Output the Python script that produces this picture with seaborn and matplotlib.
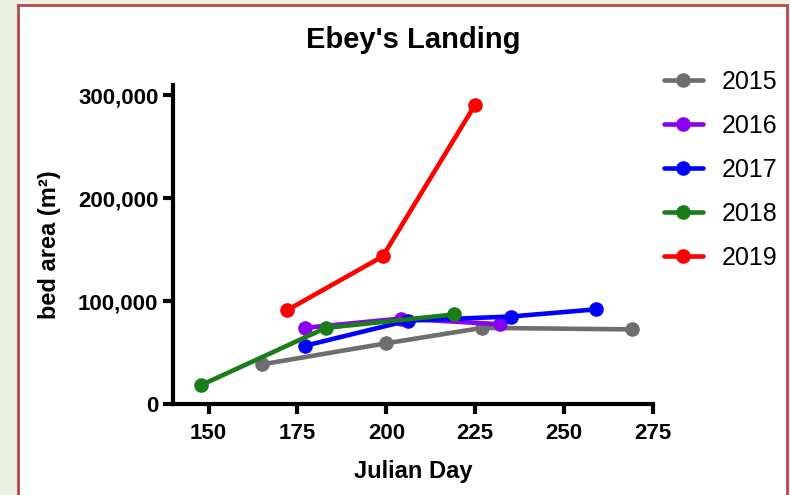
import numpy as np
import pandas as pd
import matplotlib
matplotlib.use("Agg")
import matplotlib.pyplot as plt
import seaborn as sns
from matplotlib.patches import Rectangle
from matplotlib.ticker import StrMethodFormatter

sns.set_style("ticks")
plt.rcParams['font.family'] = ['Liberation Sans', 'DejaVu Sans']
plt.rcParams['text.color'] = 'black'
plt.rcParams['axes.labelcolor'] = 'black'
plt.rcParams['xtick.color'] = 'black'
plt.rcParams['ytick.color'] = 'black'
plt.rcParams['axes.edgecolor'] = 'black'

# values
years = ["2015", "2016", "2017", "2018", "2019"]
colors = ["#6e6e6e", "#8a00f0", "#0000ff", "#1a7d1a", "#ff0000"]

day_2015 = [165, 200, 227, 269]
area_2015 = [38500, 59000, 74000, 72500]
day_2016 = [177, 204, 232]
area_2016 = [74000, 83000, 77500]
day_2017 = [177, 206, 235, 259]
area_2017 = [56500, 81000, 85000, 92000]
day_2018 = [148, 183, 219]
area_2018 = [18500, 74000, 87000]
day_2019 = [172, 199, 225]
area_2019 = [91000, 143500, 291000]

days = [day_2015, day_2016, day_2017, day_2018, day_2019]
areas = [area_2015, area_2016, area_2017, area_2018, area_2019]

df = pd.concat([pd.DataFrame({"day": d, "area": a, "year": y})
                for d, a, y in zip(days, areas, years)], ignore_index=True)

fig = plt.figure(figsize=(7.9, 4.95), dpi=100)
fig.patch.set_facecolor("#ebf0e1")
# white panel with the dark red frame
fig.patches.append(Rectangle((18 / 790, -0.05), (787 - 18) / 790, 1.05 - 5 / 495,
                             transform=fig.transFigure, facecolor="white",
                             edgecolor="#b5474b", linewidth=2, zorder=-1))

ax = fig.add_axes([173 / 790, 1 - 404 / 495, (653 - 173) / 790, (404 - 85) / 495])
ax.set_facecolor("none")

sns.lineplot(data=df, x="day", y="area", hue="year", hue_order=years,
             palette=colors, marker="o", markersize=10.5, markeredgewidth=0,
             linewidth=3.3, estimator=None, sort=False, ax=ax)

ax.set_xlim(140, 275)
ax.set_ylim(0, 310000)
ax.set_xticks([150, 175, 200, 225, 250, 275])
ax.set_yticks([0, 100000, 200000, 300000])
ax.yaxis.set_major_formatter(StrMethodFormatter("{x:,.0f}"))

for s in ["top", "right"]:
    ax.spines[s].set_visible(False)
for s in ["left", "bottom"]:
    ax.spines[s].set_linewidth(3)
ax.tick_params(width=3, length=7, labelsize=16)
ax.tick_params(axis="x", pad=7)
for lab in ax.get_xticklabels() + ax.get_yticklabels():
    lab.set_fontweight("bold")

ax.set_xlabel("Julian Day", fontsize=17, fontweight="bold", labelpad=11)
ax.set_ylabel("bed area (m²)", fontsize=17, fontweight="bold", labelpad=12)
ax.set_title("Ebey's Landing", fontsize=21, fontweight="bold", pad=27)

ax.get_legend().remove()
h, l = ax.get_legend_handles_labels()
fig.legend(h, l, loc="upper left", bbox_to_anchor=(664 / 790, 1 - 70 / 495),
           frameon=False, fontsize=18, handlelength=1.55, handletextpad=0.75,
           labelspacing=0.8, borderpad=0, borderaxespad=0)

fig.savefig("out.png", dpi=100, facecolor=fig.get_facecolor())
